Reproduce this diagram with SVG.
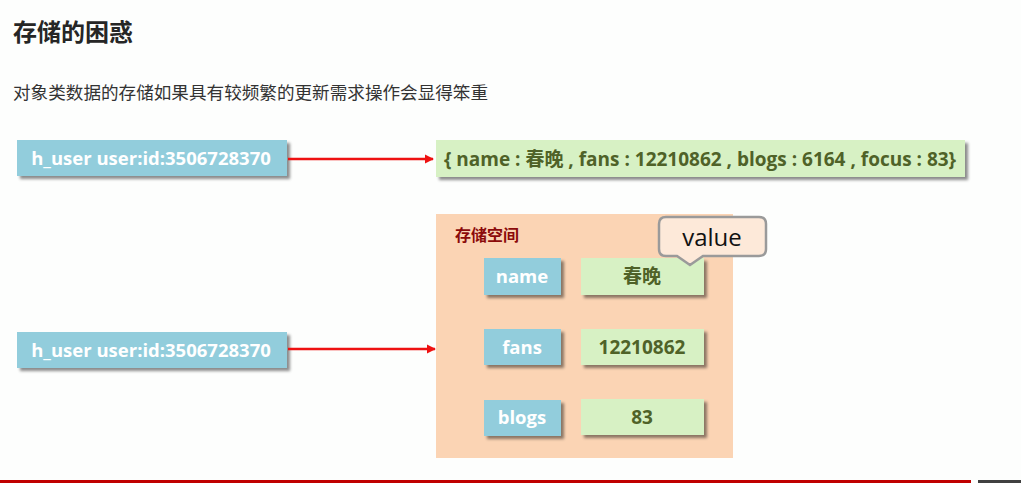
<svg xmlns="http://www.w3.org/2000/svg" width="1021" height="483" viewBox="0 0 1021 483">
<defs>
<filter id="sh" x="-10%" y="-20%" width="130%" height="160%">
<feDropShadow dx="3" dy="3" stdDeviation="1.5" flood-color="#000" flood-opacity="0.45"/>
</filter>
<marker id="arr" viewBox="0 0 10 10" refX="9" refY="5" markerWidth="3.5" markerHeight="3.5" orient="auto">
<path d="M0,0 L10,5 L0,10 z" fill="#ee1111"/>
</marker>
<style>
.key{fill:#92cddc;filter:url(#sh)}
.val{fill:#d7f1c4;filter:url(#sh)}
.kt{font-family:"Open Sans","Noto Sans CJK SC",sans-serif;font-weight:bold;font-size:18.5px;fill:#fff;text-anchor:middle}
.vt{font-family:"Open Sans","Noto Sans CJK SC",sans-serif;font-weight:bold;font-size:19px;fill:#4f6228;text-anchor:middle}
.conn{stroke:#ee1111;stroke-width:2.6;fill:none;marker-end:url(#arr)}
</style>
</defs>
<rect width="1021" height="483" fill="#fdfefd"/>
<text x="13" y="41" font-family="'Noto Sans CJK SC',sans-serif" font-weight="bold" font-size="24" fill="#262626">存储的困惑</text>
<text x="13" y="99" font-family="'Noto Sans CJK SC',sans-serif" font-size="17.6" fill="#333">对象类数据的存储如果具有较频繁的更新需求操作会显得笨重</text>

<g id="key1"><rect class="key" x="17" y="140" width="270" height="36"/><text class="kt" x="151" y="165">h_user user:id:3506728370</text></g>
<g id="json"><rect class="val" x="436" y="140" width="529" height="37"/><text class="vt" x="700" y="165.5">{ name : 春晚 , fans : 12210862 , blogs : 6164 , focus : 83}</text></g>
<g id="key2"><rect class="key" x="17" y="332" width="270" height="36"/><text class="kt" x="151" y="357">h_user user:id:3506728370</text></g>

<g id="storage">
<rect x="436" y="214" width="297" height="244" fill="#fbd4b4"/>
<text x="455" y="241" font-family="'Noto Sans CJK SC',sans-serif" font-weight="bold" font-size="16" fill="#8b0a0a">存储空间</text>
</g>
<g id="name"><rect class="key" x="484" y="258" width="77" height="37"/><text class="kt" x="522" y="283">name</text></g>
<g id="v-name"><rect class="val" x="581" y="258" width="123" height="37"/><text class="vt" x="642" y="283">春晚</text></g>
<g id="fans"><rect class="key" x="484" y="329" width="77" height="36"/><text class="kt" x="522" y="354">fans</text></g>
<g id="v-fans"><rect class="val" x="581" y="329" width="123" height="36"/><text class="vt" x="642" y="354">12210862</text></g>
<g id="blogs"><rect class="key" x="484" y="400" width="77" height="36"/><text class="kt" x="522" y="424">blogs</text></g>
<g id="v-blogs"><rect class="val" x="581" y="399" width="123" height="36"/><text class="vt" x="642" y="424">83</text></g>

<g id="callout">
<path d="M666,217 H759 Q766,217 766,224 V249 Q766,256 759,256 H703 L690,265 L677,256 H666 Q659,256 659,249 V224 Q659,217 666,217 Z" fill="#fde9d9" stroke="#9a9a9a" stroke-width="2.5"/>
<text x="712" y="246" font-family="'Open Sans',sans-serif" font-size="24" fill="#111" text-anchor="middle">value</text>
</g>

<g id="connectors">
<path class="conn" d="M288,159 H433"/>
<path class="conn" d="M288,349 H435"/>
</g>

<rect x="0" y="480" width="971" height="3" fill="#c00000"/>
<rect x="978" y="480" width="43" height="3" fill="#404040"/>
</svg>
